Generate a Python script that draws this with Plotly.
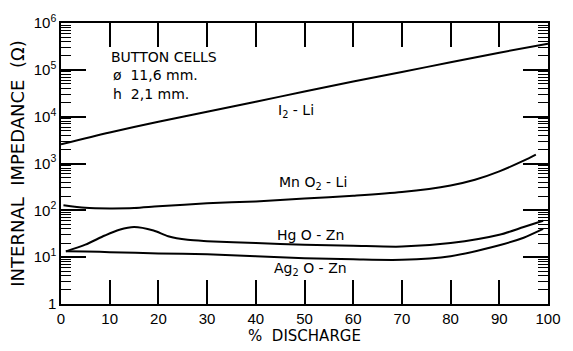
import math
import plotly.graph_objects as go

# ---- data ----
pct_i2 = [0, 10, 20, 30, 40, 50, 60, 70, 80, 90, 100]
z_i2 = [2570, 4600, 7760, 12700, 20900, 34300, 56200, 90000, 145000, 232000, 363000]

pct_mn = [0.5, 5, 10, 15, 20, 30, 40, 50, 60, 70, 80, 85, 90, 95, 97.5]
z_mn = [128, 113, 110, 112, 122, 141, 155, 178, 204, 245, 340, 450, 680, 1150, 1550]

pct_hg = [1, 5, 9, 12, 15, 19, 22, 26, 30, 40, 50, 60, 70, 80, 90, 95, 99]
z_hg = [13.3, 18.5, 29, 38.5, 44, 37, 28, 23.5, 22, 20, 18.5, 17.5, 16.8, 20, 30, 44, 60]

pct_ag = [1, 5, 10, 20, 30, 40, 50, 60, 70, 80, 90, 95, 99]
z_ag = [13.3, 13.2, 12.8, 12.0, 11.5, 10.5, 9.5, 9.0, 8.8, 10.5, 18, 26, 40]

x_ticks = [0, 10, 20, 30, 40, 50, 60, 70, 80, 90, 100]
y_tickvals = [1, 10, 100, 1000, 10000, 100000, 1000000]
y_ticktext = ["1", "10<sup>1</sup>", "10<sup>2</sup>", "10<sup>3</sup>",
              "10<sup>4</sup>", "10<sup>5</sup>", "10<sup>6</sup>"]
y_minor = [k * 10 ** n for n in range(0, 6) for k in range(2, 10)]

FONT = "Liberation Sans"
TFONT = "DejaVu Sans"

fig = go.Figure()
for xs, ys in [(pct_i2, z_i2), (pct_mn, z_mn), (pct_hg, z_hg), (pct_ag, z_ag)]:
    fig.add_trace(go.Scatter(x=xs, y=ys, mode="lines",
                             line=dict(color="black", width=2, shape="spline", smoothing=0.8),
                             showlegend=False, hoverinfo="skip"))

ann_font = dict(family=TFONT, size=14, color="black")
labels = [
    (9.8, 1.9e5, "BUTTON CELLS", "left"),
    (10.2, 7.6e4, "ø  11,6 mm.", "left"),
    (10.2, 3.0e4, "h  2,1 mm.", "left"),
    (48.3, 1.3e4, "I<sub>2</sub> - Li", "center"),
    (51.7, 390, "Mn O<sub>2</sub> - Li", "center"),
    (51.3, 29.5, "Hg O - Zn", "center"),
    (51.3, 5.5, "Ag<sub>2</sub> O - Zn", "center"),
]
for x, y, t, anc in labels:
    fig.add_annotation(x=x, y=math.log10(y), yref="y", xref="x", text=t, showarrow=False,
                       xanchor=anc, yanchor="middle", font=ann_font)

fig.update_layout(
    width=573, height=351,
    margin=dict(l=61, r=13, t=16, b=36),
    paper_bgcolor="white", plot_bgcolor="white",
    font=dict(family=FONT, size=13, color="black"),
)
fig.update_xaxes(
    range=[0, 100], tickmode="array", tickvals=x_ticks, ticks="inside", ticklen=24, tickwidth=1.5,
    tickcolor="black", showline=True, linecolor="black", linewidth=1.5,
    mirror="ticks", showgrid=False, zeroline=False,
    tickfont=dict(family=FONT, size=15, color="black"),
    title=dict(text="%  DISCHARGE", font=dict(family=TFONT, size=15, color="black"), standoff=2),
)
fig.update_yaxes(
    type="log", range=[0, 6], tickmode="array", tickvals=y_tickvals, ticktext=y_ticktext,
    ticks="inside", ticklen=25, tickwidth=1.5, tickcolor="black",
    showline=True, linecolor="black", linewidth=1.5, mirror="ticks",
    showgrid=False, zeroline=False,
    minor=dict(tickmode="array", tickvals=y_minor, ticks="inside", ticklen=10, tickwidth=1,
               tickcolor="black", showgrid=False),
    tickfont=dict(family=FONT, size=15, color="black"),
    title=dict(text="INTERNAL  IMPEDANCE  (Ω)", font=dict(family=TFONT, size=18, color="black"), standoff=4),
)

fig.write_html("out.html")
